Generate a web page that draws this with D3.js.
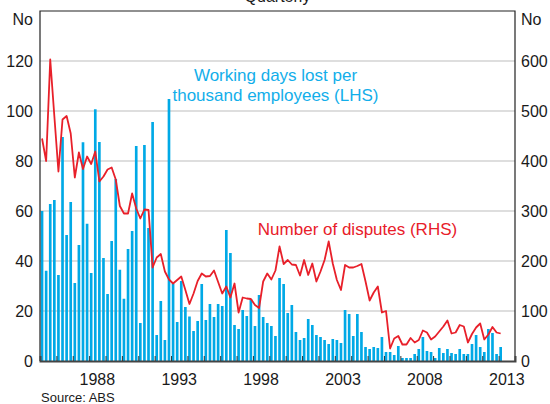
<!DOCTYPE html>
<html>
<head>
<meta charset="utf-8">
<script src="https://cdn.jsdelivr.net/npm/d3@7"></script>
<style>
	body { margin: 0; background: #ffffff; }
	svg { display: block; font-family: Arial, "Liberation Sans", Helvetica, sans-serif; }
</style>
</head>
<body>
<svg id="chart" width="550" height="404"></svg>
<script>
/* quarterly series, first value is 1985 Q1 */
var first_Year = 1985;

/* working days lost per thousand employees (LHS) */
var working_Days_Lost = [
	60.0, 36.1, 62.8, 64.4, 34.4, 89.6, 50.4, 63.6, 31.2, 46.4,
	87.5, 54.9, 35.2, 100.7, 87.6, 41.2, 26.8, 48.0, 72.8, 36.5,
	24.9, 44.8, 52.0, 86.0, 15.2, 86.4, 53.2, 95.6, 10.4, 24.0,
	8.4, 104.8, 31.0, 15.6, 32.0, 21.6, 17.8, 12.0, 16.0, 30.8,
	16.4, 22.8, 17.6, 22.8, 22.0, 52.4, 43.2, 14.4, 12.8, 20.4,
	18.0, 24.8, 14.0, 26.4, 17.6, 15.2, 14.0, 10.0, 33.2, 30.8,
	19.2, 22.4, 11.6, 8.4, 9.2, 16.8, 14.4, 10.4, 9.6, 8.4,
	6.8, 8.8, 8.4, 7.2, 20.4, 18.8, 10.0, 18.8, 11.6, 5.6,
	4.8, 5.6, 5.2, 9.6, 3.6, 3.6, 2.4, 6.0, 1.2, 1.2,
	1.2, 2.8, 4.8, 9.6, 4.0, 3.6, 1.2, 5.2, 3.2, 4.8,
	3.2, 2.8, 4.8, 2.8, 2.8, 6.8, 10.4, 5.6, 3.6, 12.8,
	11.2, 2.8, 5.6
];

/* number of disputes (RHS) */
var number_Of_Disputes = [
	445, 400, 603, 490, 379, 483, 490, 455, 367, 417,
	384, 409, 394, 419, 359, 369, 383, 387, 363, 310,
	295, 295, 335, 305, 285, 303, 302, 187, 207, 214,
	179, 163, 155, 162, 169, 142, 114, 135, 160, 175,
	169, 170, 181, 158, 135, 149, 127, 155, 97, 127,
	125, 124, 112, 106, 159, 175, 163, 181, 229, 194,
	202, 193, 192, 171, 202, 172, 195, 159, 179, 202,
	239, 195, 162, 142, 192, 187, 187, 190, 194, 159,
	121, 137, 149, 97, 100, 25, 45, 50, 33, 33,
	46, 37, 42, 61, 57, 43, 49, 59, 69, 81,
	55, 57, 72, 69, 37, 54, 67, 75, 43, 53,
	68, 57, 55
];

var left_Ticks = [0, 20, 40, 60, 80, 100, 120];
var right_Ticks = [0, 100, 200, 300, 400, 500, 600];
var year_Labels = [1988, 1993, 1998, 2003, 2008, 2013];

/* APPLICATION COLOURS */
var bar_Colour = "#00A9E6";
var line_Colour = "#E8202A";
var grid_Colour = "#BEBEBE";
var text_Colour = "#1A1A1A";

var svg = d3.select("#chart");

var plot_Left = 40, plot_Right = 515, plot_Top = 11, plot_Bottom = 361;

var x = d3.scaleLinear().domain([first_Year, 2014]).range([plot_Left, plot_Right]);
var y_Left = d3.scaleLinear().domain([0, 140]).range([plot_Bottom, plot_Top]);
var y_Right = d3.scaleLinear().domain([0, 700]).range([plot_Bottom, plot_Top]);

var quarter_Width = x(first_Year + 0.25) - x(first_Year);
var bar_Width = quarter_Width * 0.65;

/* gridlines */
svg.append("g").selectAll("line")
	.data(left_Ticks.filter(function(d){ return d > 0; }))
	.enter().append("line")
	.attr("x1", plot_Left).attr("x2", plot_Right)
	.attr("y1", function(d){ return y_Left(d); })
	.attr("y2", function(d){ return y_Left(d); })
	.attr("stroke", grid_Colour)
	.attr("stroke-width", 1.2);

/* bars */
svg.append("g").selectAll("rect")
	.data(working_Days_Lost)
	.enter().append("rect")
	.attr("x", function(d, i){ return x(first_Year + i / 4) + (quarter_Width - bar_Width) / 2; })
	.attr("width", bar_Width)
	.attr("y", function(d){ return y_Left(d); })
	.attr("height", function(d){ return plot_Bottom - y_Left(d); })
	.attr("fill", bar_Colour);

/* disputes line */
var disputes_Line = d3.line()
	.x(function(d, i){ return x(first_Year + i / 4 + 0.125); })
	.y(function(d){ return y_Right(d); });

svg.append("path")
	.datum(number_Of_Disputes)
	.attr("d", disputes_Line)
	.attr("fill", "none")
	.attr("stroke", line_Colour)
	.attr("stroke-width", 1.8)
	.attr("stroke-linejoin", "round");

/* frame */
svg.append("path")
	.attr("d", "M" + plot_Left + "," + plot_Bottom + "V" + plot_Top + "H" + plot_Right + "V" + plot_Bottom)
	.attr("fill", "none")
	.attr("stroke", "#222222")
	.attr("stroke-width", 1.2);

/* x axis with yearly ticks */
var x_Axis = d3.axisBottom(x)
	.tickValues(d3.range(first_Year + 1, 2014))
	.tickSize(-5)
	.tickFormat("");

var axis_Group = svg.append("g")
	.attr("transform", "translate(0," + plot_Bottom + ")")
	.call(x_Axis);

axis_Group.select(".domain").attr("stroke", "#444444").attr("stroke-width", 2);
axis_Group.selectAll(".tick line").attr("stroke", "#333333").attr("stroke-width", 1);

svg.append("g").selectAll("text")
	.data(year_Labels)
	.enter().append("text")
	.attr("x", function(d){ return x(d + 0.5); })
	.attr("y", 385)
	.attr("text-anchor", "middle")
	.attr("font-size", 16)
	.attr("fill", text_Colour)
	.text(function(d){ return d; });

/* y labels */
svg.append("g").selectAll("text")
	.data(left_Ticks)
	.enter().append("text")
	.attr("x", 33)
	.attr("y", function(d){ return y_Left(d); })
	.attr("dy", "0.35em")
	.attr("text-anchor", "end")
	.attr("font-size", 16)
	.attr("fill", text_Colour)
	.text(function(d){ return d; });

svg.append("g").selectAll("text")
	.data(right_Ticks)
	.enter().append("text")
	.attr("x", 521)
	.attr("y", function(d){ return y_Right(d); })
	.attr("dy", "0.35em")
	.attr("text-anchor", "start")
	.attr("font-size", 16)
	.attr("fill", text_Colour)
	.text(function(d){ return d; });

svg.append("text").attr("x", 33).attr("y", 25).attr("text-anchor", "end")
	.attr("font-size", 16).attr("fill", text_Colour).text("No");
svg.append("text").attr("x", 521).attr("y", 25).attr("text-anchor", "start")
	.attr("font-size", 16).attr("fill", text_Colour).text("No");

/* title, cut off by top edge */
svg.append("text").attr("x", 277.5).attr("y", 2).attr("text-anchor", "middle")
	.attr("font-size", 16).attr("fill", text_Colour).text("Quarterly");

/* series annotations */
var blue_Label = svg.append("text")
	.attr("text-anchor", "middle")
	.attr("font-size", 17)
	.attr("fill", "#12AEEA");
blue_Label.append("tspan").attr("x", 275.5).attr("y", 81).text("Working days lost per");
blue_Label.append("tspan").attr("x", 275.5).attr("y", 101).text("thousand employees (LHS)");

svg.append("text")
	.attr("x", 357.5).attr("y", 235)
	.attr("text-anchor", "middle")
	.attr("font-size", 17)
	.attr("fill", line_Colour)
	.text("Number of disputes (RHS)");

/* source */
svg.append("text").attr("x", 41).attr("y", 402)
	.attr("font-size", 13).attr("fill", text_Colour).text("Source: ABS");
</script>
</body>
</html>
